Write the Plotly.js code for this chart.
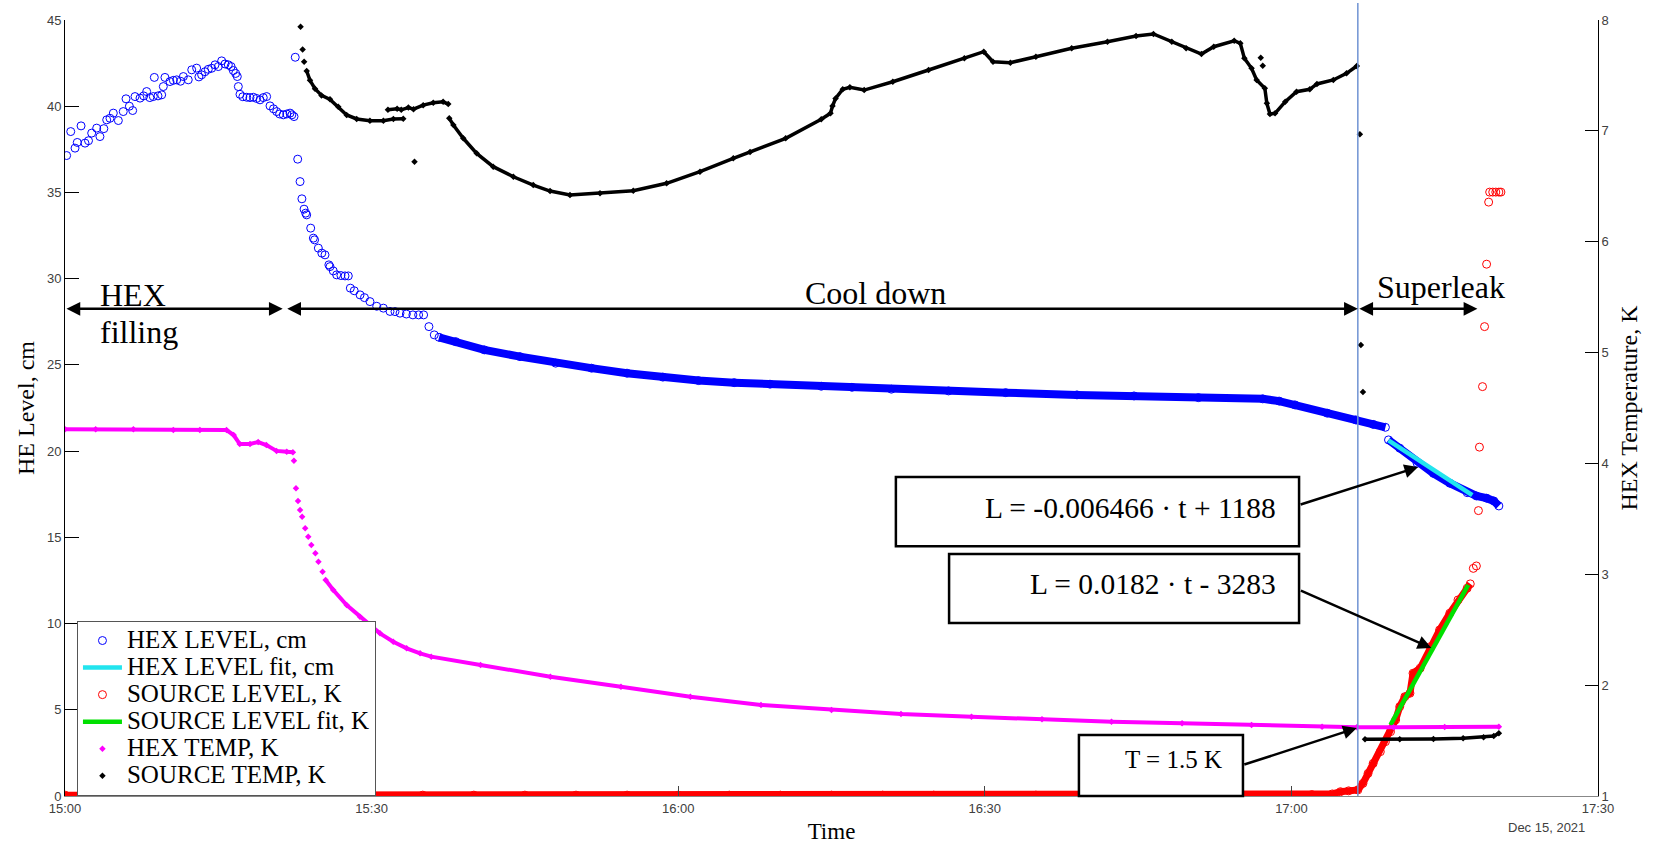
<!DOCTYPE html>
<html>
<head>
<meta charset="utf-8">
<script src="https://cdn.plot.ly/plotly-3.0.1.min.js"></script>
<style>html,body{margin:0;padding:0;background:#fff;}#chart{width:1657px;height:846px;}</style>
</head>
<body>
<div id="chart"></div>
<script>
// ---------- DATA (time in minutes after 15:00, Dec 15 2021) ----------
const tickMinutes = [0, 30, 60, 90, 120, 150];
const tickLabels = ['15:00', '15:30', '16:00', '16:30', '17:00', '17:30'];
const seriesNames = ['HEX LEVEL, cm', 'HEX LEVEL fit, cm', 'SOURCE LEVEL, K', 'SOURCE LEVEL fit, K', 'HEX TEMP, K', 'SOURCE TEMP, K'];

// HEX LEVEL, cm (blue circles) — filling phase
const hexFillT = [0.16,0.56,0.98,1.2,1.57,1.96,2.3,2.61,3.1,3.42,3.8,4.08,4.4,4.73,5.22,5.7,5.97,6.3,6.62,6.85,7.34,7.7,7.99,8.3,8.64,8.74,9.1,9.46,9.62,9.78,10.27,10.6,10.93,11.3,11.58,12.06,12.4,12.88,13.1,13.37,13.7,14.02,14.35,14.68,15.0,15.33,15.66,15.98,16.25,16.47,16.7,16.86,16.96,17.12,17.4,17.78,18.1,18.43,18.75,19.08,19.4,19.73,20.06,20.4,20.71,21.0,21.36,21.7,22.02,22.2,22.41];
const hexFillL = [37.14,38.53,37.57,37.9,38.86,37.86,38.0,38.44,38.73,38.24,38.7,39.21,39.3,39.6,39.17,39.69,40.43,40.0,39.75,40.56,40.47,40.6,40.85,40.5,40.56,41.67,40.6,40.66,41.14,41.67,41.43,41.5,41.53,41.45,41.72,41.53,42.11,42.21,41.7,41.82,42.0,42.14,42.2,42.4,42.3,42.63,42.45,42.4,42.3,42.07,41.9,41.72,41.14,40.69,40.55,40.52,40.5,40.52,40.45,40.37,40.5,40.56,40.02,39.85,39.69,39.55,39.5,39.55,39.6,39.5,39.4];
// HEX LEVEL — fast drop at start of cool down
const hexDropT = [22.53,22.77,23.0,23.18,23.39,23.55,23.65,24.04,24.3,24.42,24.79,25.13,25.44,25.82,25.93,26.25,26.58,27.0,27.4,27.72,27.92,28.3,28.87,29.3,29.84,30.5,31.15,31.8,32.29,32.78,33.4,34.04,34.6,35.09,35.61,36.13];
const hexDropL = [42.84,36.93,35.63,34.63,34.03,33.8,33.7,32.93,32.35,32.25,31.77,31.48,31.38,30.8,30.7,30.45,30.22,30.18,30.16,30.16,29.45,29.3,29.06,28.9,28.67,28.4,28.29,28.1,28.09,28.0,27.95,27.9,27.9,27.9,27.22,26.74];
// HEX LEVEL — dense slow part (null = gap in the record)
const hexSlowT = [36.6,38.23,41.03,44.52,48.01,51.51,54.99,58.5,61.99,65.48,68.98,74.0,77.0,80.86,86.45,92.04,99.02,104.6,110.9,117.2,118.8,120.35,123.5,126.3,128.0,129.2,null,129.5,130.6,132.3,133.9,135.5,137.2,138.1,139.1,139.8,140.3];
const hexSlowL = [26.6,26.35,25.87,25.48,25.1,24.81,24.52,24.29,24.09,23.97,23.88,23.76,23.7,23.59,23.49,23.39,23.26,23.2,23.1,23.03,22.9,22.68,22.2,21.81,21.55,21.38,null,20.65,20.17,19.3,18.71,18.14,17.59,17.4,17.27,17.11,16.82];
// HEX LEVEL fit, cm (cyan)
const hexFitT = [129.5, 137.7];
const hexFitL = [20.62, 17.45];

// SOURCE LEVEL (red circles)
const srcLvlT = [0,5,10,15,20,25,30,35,40,45,50,55,60,65,70,75,80,85,90,95,100,105,110,115,120,122,124,124.8,125.6,126.5,127.0,127.5,128.0,128.7,129.2,129.7,130.2,130.6,131.1,131.6,131.9,132.6,133.6,134.5,135.5,136.3,137.2,137.5];
const srcLvlL = [0.05,0.05,0.05,0.05,0.05,0.05,0.05,0.05,0.05,0.05,0.05,0.05,0.05,0.05,0.05,0.05,0.05,0.05,0.05,0.05,0.05,0.05,0.05,0.05,0.05,0.08,0.12,0.25,0.3,0.35,0.73,1.31,1.89,2.57,3.15,3.73,4.41,5.18,5.76,5.96,7.12,7.41,8.66,9.63,10.6,11.37,12.05,12.3];
const srcTopT = [137.8,138.1,138.3,138.4,138.7,138.9,139.1,139.3,139.4,139.7,140.0,140.3,140.5];
const srcTopL = [13.2,13.34,16.55,20.23,23.74,27.22,30.84,34.44,35.02,35.02,35.02,35.02,35.02];
// SOURCE LEVEL fit (green)
const srcFitT = [129.7, 137.3];
const srcFitL = [4.12, 12.24];

// HEX TEMP, K (magenta, right axis): before drop, isolated drop points, after drop
const hexTempAT = [0,3,6.69,10.6,13.2,15.8,16.5,17.1,18.1,18.9,19.7,20.7,21.7,22.3];
const hexTempAK = [4.308,4.308,4.308,4.301,4.301,4.301,4.256,4.175,4.175,4.193,4.166,4.113,4.106,4.1];
const hexTempDropT = [22.4,22.6,22.8,23.0,23.2,23.5,23.8,24.1,24.5,24.8,25.2];
const hexTempDropK = [4.024,3.775,3.661,3.58,3.519,3.415,3.339,3.264,3.189,3.113,3.023];
const hexTempBT = [25.5,26.25,27.56,28.86,29.78,30.82,32.12,33.43,34.74,35.84,40.66,47.5,54.4,61.2,68.1,75.0,81.8,88.7,95.6,102.4,109.3,116.1,123.0,126.4,130.0,135.0,140.3];
const hexTempBK = [2.948,2.858,2.723,2.617,2.542,2.467,2.392,2.332,2.287,2.257,2.182,2.076,1.986,1.896,1.821,1.776,1.74,1.715,1.692,1.67,1.656,1.64,1.625,1.62,1.62,1.622,1.625];

// SOURCE TEMP, K (black, right axis; null = gap)
const srcTempT = [23.65,23.97,24.46,25.1,25.93,26.74,27.56,28.54,29.84,31.15,32.13,33.1,null,
  31.6,32.5,32.9,33.6,34.1,35.05,36.03,37.0,37.5,null,
  37.6,38.0,38.97,40.28,41.9,43.87,45.82,47.46,49.41,52.35,55.6,58.87,62.13,65.39,67.03,70.52,74.0,74.9,75.1,75.4,76.1,76.8,78.2,81.0,84.5,88.0,89.9,90.8,92.5,95.0,98.5,102.0,104.8,106.5,108.3,109.7,111.2,112.4,114.4,115.0,115.4,116.1,116.6,117.4,117.6,117.9,118.4,119.4,120.5,121.8,122.5,124.1,125.4,126.4,null,
  127.2,130.6,133.9,136.8,138.8,139.8,140.3];
const srcTempK = [7.54,7.456,7.38,7.32,7.284,7.218,7.143,7.107,7.092,7.092,7.107,7.11,null,
  7.19,7.2,7.19,7.211,7.196,7.232,7.253,7.262,7.242,null,
  7.113,7.053,6.933,6.797,6.677,6.586,6.511,6.457,6.421,6.437,6.46,6.527,6.632,6.752,6.81,6.933,7.104,7.158,7.224,7.293,7.375,7.393,7.368,7.443,7.549,7.654,7.714,7.624,7.615,7.669,7.745,7.804,7.856,7.874,7.804,7.745,7.693,7.759,7.813,7.79,7.654,7.564,7.459,7.384,7.248,7.152,7.158,7.263,7.353,7.375,7.423,7.459,7.519,7.585,null,
  1.511,1.511,1.514,1.52,1.529,1.541,1.566];
const srcTempOutT = [23.05, 23.25, 23.4, 34.2, 117.0, 117.2, 126.7, 126.8, 127.0];
const srcTempOutK = [7.94, 7.733, 7.624, 6.722, 7.66, 7.588, 6.969, 5.068, 4.644];

// phase markers (minutes) and vertical marker time
const phaseStart = [0, 21.6, 126.5];
const phaseEnd = [21.3, 126.5, 138.2];
const phaseArrowLevel = 28.25;
const markerTime = 126.5;

// arrow tips of the text boxes
const eqTipT = [132.4, 133.7];
const eqTipL = [19.08, 8.58];
const tempTipT = 126.4;
const tempTipK = 1.613;

// ---------- STYLE ----------
const serif = 'Liberation Serif, Times New Roman, serif';
const sans = 'Liberation Sans, Arial, sans-serif';
const BLUE = '#0000ff', RED = '#ff0000', MAG = '#ff00ff';
const lg = s => '<span style="font-size:25px">' + s + '</span>';

const circ = c => ({symbol: 'circle-open', size: 8, color: c, line: {width: 1, color: c}});
const dot = c => ({symbol: 'diamond', size: 5, color: c});

const traces = [
  // HEX LEVEL
  {x: hexFillT, y: hexFillL, type: 'scatter', mode: 'markers', name: lg(seriesNames[0]), legendgroup: 'hl', marker: circ(BLUE)},
  {x: hexDropT, y: hexDropL, type: 'scatter', mode: 'markers', showlegend: false, legendgroup: 'hl', marker: circ(BLUE)},
  {x: hexSlowT, y: hexSlowL, type: 'scatter', mode: 'lines', showlegend: false, legendgroup: 'hl', line: {color: BLUE, width: 8}},
  {x: hexSlowT, y: hexSlowL, type: 'scatter', mode: 'markers', showlegend: false, legendgroup: 'hl', marker: circ(BLUE)},
  // HEX LEVEL fit
  {x: hexFitT, y: hexFitL, type: 'scatter', mode: 'lines', name: lg(seriesNames[1]), line: {color: '#22e4ee', width: 4.5}},
  // SOURCE LEVEL
  {x: srcLvlT, y: srcLvlL, type: 'scatter', mode: 'lines', showlegend: false, legendgroup: 'sl', line: {color: RED, width: 7}},
  {x: srcLvlT, y: srcLvlL, type: 'scatter', mode: 'markers', name: lg(seriesNames[2]), legendgroup: 'sl', marker: circ(RED)},
  {x: srcTopT, y: srcTopL, type: 'scatter', mode: 'markers', showlegend: false, legendgroup: 'sl', marker: circ(RED)},
  // SOURCE LEVEL fit
  {x: srcFitT, y: srcFitL, type: 'scatter', mode: 'lines', name: lg(seriesNames[3]), line: {color: '#00e000', width: 4.5}},
  // HEX TEMP (right axis)
  {x: hexTempAT, y: hexTempAK, yaxis: 'y2', type: 'scatter', mode: 'lines', showlegend: false, legendgroup: 'ht', line: {color: MAG, width: 4}},
  {x: hexTempBT, y: hexTempBK, yaxis: 'y2', type: 'scatter', mode: 'lines', showlegend: false, legendgroup: 'ht', line: {color: MAG, width: 4}},
  {x: hexTempAT, y: hexTempAK, yaxis: 'y2', type: 'scatter', mode: 'markers', name: lg(seriesNames[4]), legendgroup: 'ht', marker: dot(MAG)},
  {x: hexTempDropT, y: hexTempDropK, yaxis: 'y2', type: 'scatter', mode: 'markers', showlegend: false, legendgroup: 'ht', marker: dot(MAG)},
  {x: hexTempBT, y: hexTempBK, yaxis: 'y2', type: 'scatter', mode: 'markers', showlegend: false, legendgroup: 'ht', marker: dot(MAG)},
  // SOURCE TEMP (right axis)
  {x: srcTempT, y: srcTempK, yaxis: 'y2', type: 'scatter', mode: 'lines', showlegend: false, legendgroup: 'st', line: {color: '#000', width: 3.5}},
  {x: srcTempT, y: srcTempK, yaxis: 'y2', type: 'scatter', mode: 'markers', name: lg(seriesNames[5]), legendgroup: 'st', marker: dot('#000')},
  {x: srcTempOutT, y: srcTempOutK, yaxis: 'y2', type: 'scatter', mode: 'markers', showlegend: false, legendgroup: 'st', marker: dot('#000')}
];

const annotations = [];
// phase arrows
for (let i = 0; i < phaseStart.length; i++) {
  annotations.push({x: phaseEnd[i], y: phaseArrowLevel, ax: phaseStart[i], ay: phaseArrowLevel,
    xref: 'x', yref: 'y', axref: 'x', ayref: 'y', text: '', showarrow: true,
    arrowhead: 2, startarrowhead: 2, arrowside: 'end+start', arrowsize: 1.1, startarrowsize: 1.1,
    arrowwidth: 2.5, arrowcolor: '#000', standoff: 0, startstandoff: 0});
}
const phaseFont = {family: serif, size: 32, color: '#000'};
annotations.push({xref: 'paper', yref: 'paper', x: 0.0215, y: 0.6456, xanchor: 'left', yanchor: 'middle', text: 'HEX', showarrow: false, font: phaseFont});
annotations.push({xref: 'paper', yref: 'paper', x: 0.0215, y: 0.598, xanchor: 'left', yanchor: 'middle', text: 'filling', showarrow: false, font: phaseFont});
annotations.push({xref: 'paper', yref: 'paper', x: 0.529, y: 0.648, xanchor: 'center', yanchor: 'middle', text: 'Cool down', showarrow: false, font: phaseFont});
annotations.push({xref: 'paper', yref: 'paper', x: 0.8976, y: 0.656, xanchor: 'center', yanchor: 'middle', text: 'Superleak', showarrow: false, font: phaseFont});

// equation texts
annotations.push({xref: 'paper', yref: 'paper', x: 0.7913, y: 0.3716, xanchor: 'right', yanchor: 'middle',
  text: 'L = -0.006466 \u00b7 t + 1188', showarrow: false, font: {family: serif, size: 29.5, color: '#000'}});
annotations.push({xref: 'paper', yref: 'paper', x: 0.7913, y: 0.2737, xanchor: 'right', yanchor: 'middle',
  text: 'L = 0.0182 \u00b7 t - 3283', showarrow: false, font: {family: serif, size: 29.5, color: '#000'}});
annotations.push({xref: 'paper', yref: 'paper', x: 0.756, y: 0.0464, xanchor: 'right', yanchor: 'middle',
  text: 'T = 1.5 K', showarrow: false, font: {family: serif, size: 25, color: '#000'}});
// box arrows
annotations.push({x: eqTipT[0], y: eqTipL[0], xref: 'x', yref: 'y', ax: -119, ay: 38, text: '', showarrow: true,
  arrowhead: 2, arrowsize: 1.1, arrowwidth: 2.5, arrowcolor: '#000', standoff: 0});
annotations.push({x: eqTipT[1], y: eqTipL[1], xref: 'x', yref: 'y', ax: -132, ay: -58, text: '', showarrow: true,
  arrowhead: 2, arrowsize: 1.1, arrowwidth: 2.5, arrowcolor: '#000', standoff: 0});
annotations.push({x: tempTipT, y: tempTipK, xref: 'x', yref: 'y2', ax: -114, ay: 37, text: '', showarrow: true,
  arrowhead: 2, arrowsize: 1.1, arrowwidth: 2.5, arrowcolor: '#000', standoff: 0});
// date label
annotations.push({xref: 'paper', yref: 'paper', x: 0.9661, y: -0.0412, xanchor: 'center', yanchor: 'middle',
  text: 'Dec 15, 2021', showarrow: false, font: {family: sans, size: 13, color: '#404040'}});

const shapes = [
  {type: 'line', xref: 'x', yref: 'paper', x0: markerTime, x1: markerTime, y0: 0, y1: 1.022,
   line: {color: '#6f93d3', width: 1.5}, layer: 'above'},
  {type: 'rect', xref: 'paper', yref: 'paper', x0: 0.542, x1: 0.805, y0: 0.322, y1: 0.411,
   line: {color: '#000', width: 2.5}, fillcolor: '#fff', layer: 'above'},
  {type: 'rect', xref: 'paper', yref: 'paper', x0: 0.5767, x1: 0.805, y0: 0.2229, y1: 0.3119,
   line: {color: '#000', width: 2.5}, fillcolor: '#fff', layer: 'above'},
  {type: 'rect', xref: 'paper', yref: 'paper', x0: 0.6614, x1: 0.7684, y0: 0.0, y1: 0.0786,
   line: {color: '#000', width: 2.5}, fillcolor: '#fff', layer: 'above'}
];

const tickFont = {family: sans, size: 13, color: '#404040'};
const layout = {
  width: 1657, height: 846,
  margin: {l: 65, r: 59, t: 20, b: 50},
  paper_bgcolor: '#fff', plot_bgcolor: '#fff',
  showlegend: true,
  legend: {x: 0.0078, y: 0.2255, xanchor: 'left', yanchor: 'top', bgcolor: '#fff',
    bordercolor: '#555', borderwidth: 1, font: {family: serif, size: 18.5, color: '#000'},
    traceorder: 'normal', itemsizing: 'trace', itemwidth: 39},
  xaxis: {range: [0, 150], tickvals: tickMinutes, ticktext: tickLabels, ticks: 'inside', ticklen: 10,
    tickcolor: '#444', showline: true, linecolor: '#888', linewidth: 1, showgrid: false, zeroline: false,
    tickfont: tickFont, automargin: false,
    title: {text: 'Time', font: {family: serif, size: 23, color: '#000'}, standoff: 8}},
  yaxis: {range: [0, 45], dtick: 5, ticks: 'inside', ticklen: 14, tickcolor: '#000', showline: true,
    linecolor: '#000', linewidth: 1, showgrid: false, zeroline: false, tickfont: tickFont, automargin: false,
    title: {text: 'HE Level, cm', font: {family: serif, size: 24, color: '#000'}, standoff: 5}},
  yaxis2: {range: [1, 8], dtick: 1, overlaying: 'y', side: 'right', ticks: 'inside', ticklen: 13,
    tickcolor: '#000', showline: true, linecolor: '#000', linewidth: 1, showgrid: false, zeroline: false,
    tickfont: tickFont, automargin: false,
    title: {text: 'HEX Temperature, K', font: {family: serif, size: 24, color: '#000'}, standoff: 12}},
  annotations: annotations,
  shapes: shapes
};

Plotly.newPlot('chart', traces, layout, {displayModeBar: false, staticPlot: true});
</script>
</body>
</html>
